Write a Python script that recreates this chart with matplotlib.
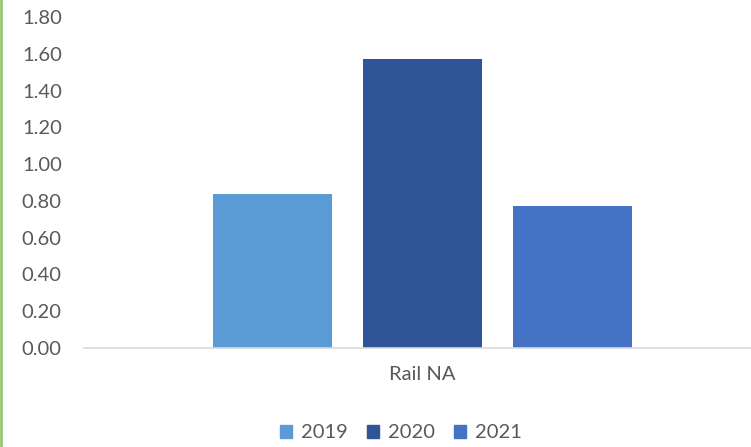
import matplotlib
matplotlib.use("Agg")
import matplotlib.pyplot as plt
from matplotlib.patches import Patch

category = "Rail NA"
years = ["2019", "2020", "2021"]
values = [0.84, 1.57, 0.77]
colors = ["#5B9BD5", "#2F5597", "#4472C4"]
y_ticks = [0.0, 0.2, 0.4, 0.6, 0.8, 1.0, 1.2, 1.4, 1.6, 1.8]

plt.rcParams["font.family"] = ["Lato", "DejaVu Sans"]
text_color = "#595959"
fs = 14.5

fig = plt.figure(figsize=(7.51, 4.47), dpi=100)
ax = fig.add_axes([84 / 751, 99 / 447, 677 / 751, 331 / 447])

positions = [-1, 0, 1]
ax.bar(positions, values, width=0.79, color=colors)

ax.set_xlim(-2.257, 2.257)
ax.set_ylim(0, 1.8)
ax.set_yticks(y_ticks)
ax.set_yticklabels([f"{v:.2f}" for v in y_ticks])
ax.set_xticks([0])
ax.set_xticklabels([category])
ax.tick_params(axis="y", length=0, pad=16, labelsize=fs, labelcolor=text_color)
ax.tick_params(axis="x", length=0, pad=13, labelsize=fs, labelcolor=text_color)

for side in ["top", "right", "left"]:
    ax.spines[side].set_visible(False)
ax.spines["bottom"].set_color("#D9D9D9")
ax.spines["bottom"].set_linewidth(1.2)

handles = [Patch(color=c, label=y) for c, y in zip(colors, years)]
fig.legend(handles=handles, loc="center", bbox_to_anchor=(401 / 751, 14 / 447),
           ncol=3, frameon=False, fontsize=fs, labelcolor=text_color,
           handlelength=0.6, handleheight=0.6, handletextpad=0.45, columnspacing=0.95)

# green border at left edge
fig.add_artist(plt.Line2D([0.0015, 0.0015], [0, 1], color="#8CC168", linewidth=1.8,
                          transform=fig.transFigure))

fig.savefig("out.png", dpi=100)
